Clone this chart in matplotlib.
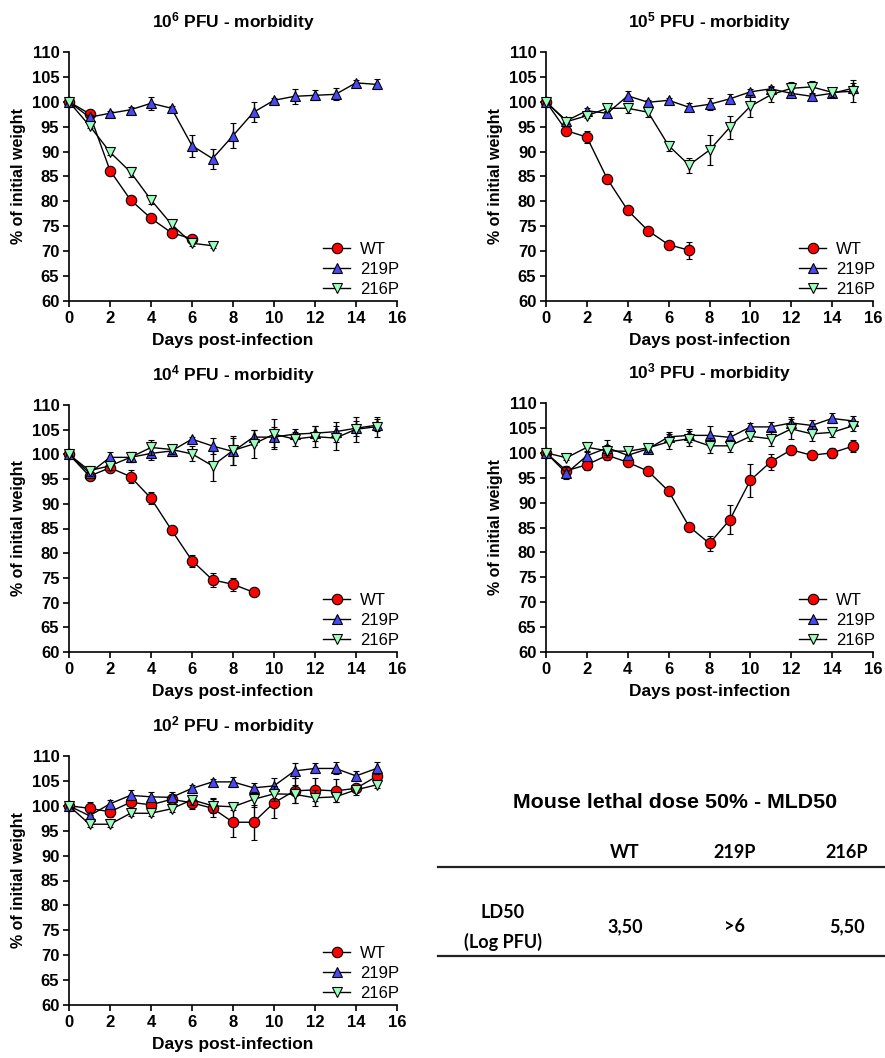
import numpy as np
import matplotlib
matplotlib.use("Agg")
import matplotlib.pyplot as plt
from matplotlib.lines import Line2D

plt.rcParams['font.family'] = ['Liberation Sans', 'DejaVu Sans']
plt.rcParams['mathtext.fontset'] = 'custom'
plt.rcParams['mathtext.bf'] = 'Liberation Sans:bold'
plt.rcParams['mathtext.rm'] = 'Liberation Sans:bold'

# ---- data ----
doses = ["6", "5", "4", "3", "2"]

wt_1e6 = [100, 97.6, 86.2, 80.3, 76.6, 73.7, 72.5]
wt_1e6_err = [0, 0.4, 0.8, 0.8, 0.8, 0.9, 0.5]
p219_1e6 = [100, 96.9, 97.7, 98.4, 99.7, 98.7, 91.2, 88.6, 93.2, 97.9, 100.3, 101.1, 101.3, 101.5, 103.8, 103.5]
p219_1e6_err = [0, 0.5, 0.5, 0.5, 1.3, 0.5, 2.2, 2.0, 2.5, 2.0, 0.5, 1.5, 1.0, 1.2, 0.5, 1.0]
p216_1e6 = [100, 95.2, 89.9, 85.9, 80.3, 75.4, 71.6, 71.1]
p216_1e6_err = [0, 0.5, 0.5, 1.0, 0.8, 0.8, 0.5, 0.4]

wt_1e5 = [100, 94.2, 92.9, 84.5, 78.2, 74.1, 71.3, 70.2]
wt_1e5_err = [0, 0.6, 1.2, 0.5, 0.5, 0.5, 0.6, 1.7]
p219_1e5 = [100, 96.2, 98.2, 97.7, 101.2, 99.9, 100.3, 98.9, 99.5, 100.6, 102.0, 102.6, 101.7, 101.1, 101.7, 102.7]
p219_1e5_err = [0, 0.6, 0.5, 0.5, 1.0, 0.5, 0.5, 0.8, 1.2, 1.0, 0.5, 0.5, 0.8, 0.5, 0.8, 1.0]
p216_1e5 = [100, 96.0, 97.2, 98.7, 98.7, 97.9, 91.2, 87.3, 90.3, 94.9, 99.1, 101.4, 102.7, 103.0, 101.9, 102.1]
p216_1e5_err = [0, 0.5, 0.5, 0.5, 1.0, 1.0, 1.0, 1.5, 3.0, 2.3, 2.2, 1.5, 1.3, 1.2, 0.9, 2.2]

wt_1e4 = [100, 95.6, 97.3, 95.5, 91.1, 84.7, 78.5, 74.6, 73.7, 72.1]
wt_1e4_err = [0, 0.6, 0.8, 1.3, 1.2, 0.8, 1.2, 1.4, 1.3, 0.6]
p219_1e4 = [100, 96.2, 99.4, 99.4, 100.2, 100.7, 103.1, 101.7, 100.6, 103.5, 103.5, 104.1, 104.3, 104.6, 105.3, 105.9]
p219_1e4_err = [0, 0.6, 1.0, 1.0, 1.3, 1.0, 0.5, 1.6, 2.7, 1.5, 2.0, 1.0, 1.5, 2.0, 1.5, 1.2]
p216_1e4 = [100, 96.7, 97.7, 99.4, 101.4, 101.0, 100.1, 97.7, 100.8, 102.1, 104.1, 103.1, 103.6, 103.3, 105.1, 105.6]
p216_1e4_err = [0, 1.0, 0.8, 1.0, 1.5, 1.0, 1.5, 3.0, 3.0, 2.8, 3.0, 1.5, 2.2, 2.5, 2.5, 2.0]

wt_1e3 = [100, 96.4, 97.6, 99.5, 98.1, 96.3, 92.3, 85.2, 81.8, 86.6, 94.5, 98.2, 100.6, 99.5, 100.0, 101.3]
wt_1e3_err = [0, 1.0, 1.0, 1.0, 0.8, 0.6, 0.6, 0.6, 1.5, 3.0, 3.3, 1.6, 0.8, 0.8, 1.0, 1.2]
p219_1e3 = [100, 95.9, 99.4, 101.0, 99.5, 100.8, 103.2, 103.5, 103.5, 103.1, 105.2, 105.2, 106.0, 105.5, 106.9, 106.4]
p219_1e3_err = [0, 1.2, 1.0, 1.5, 0.8, 0.8, 1.0, 1.3, 1.8, 1.2, 0.8, 1.0, 1.2, 1.0, 1.0, 1.0]
p216_1e3 = [100, 99.0, 101.1, 100.4, 100.3, 101.0, 102.2, 102.8, 101.4, 101.4, 103.3, 102.8, 104.8, 103.8, 104.1, 105.4]
p216_1e3_err = [0, 0.5, 1.0, 1.2, 0.8, 0.8, 1.5, 1.5, 1.5, 1.2, 1.0, 1.5, 2.0, 1.5, 1.0, 1.0]

wt_1e2 = [100, 99.5, 98.8, 100.7, 100.2, 101.3, 100.6, 99.5, 96.7, 96.7, 100.6, 103.0, 103.2, 103.0, 103.5, 105.9]
wt_1e2_err = [0, 1.3, 1.0, 1.5, 1.0, 1.0, 1.2, 1.8, 3.0, 3.5, 3.0, 2.5, 2.3, 2.3, 0.8, 1.0]
p219_1e2 = [100, 98.0, 100.4, 102.1, 101.8, 101.7, 103.5, 104.8, 104.8, 103.6, 104.0, 107.0, 107.5, 107.5, 106.0, 107.5]
p219_1e2_err = [0, 0.6, 0.8, 1.0, 1.0, 1.0, 0.6, 0.6, 1.0, 1.0, 1.5, 1.5, 1.0, 1.2, 0.9, 1.2]
p216_1e2 = [100, 96.3, 96.3, 98.5, 98.5, 99.4, 101.2, 100.0, 99.8, 101.3, 102.4, 102.3, 101.6, 101.8, 103.2, 104.2]
p216_1e2_err = [0, 0.6, 0.6, 0.6, 0.6, 0.6, 1.0, 1.5, 0.6, 1.5, 1.5, 1.8, 1.6, 1.0, 1.0, 0.6]

panels = [
    (wt_1e6, wt_1e6_err, p219_1e6, p219_1e6_err, p216_1e6, p216_1e6_err),
    (wt_1e5, wt_1e5_err, p219_1e5, p219_1e5_err, p216_1e5, p216_1e5_err),
    (wt_1e4, wt_1e4_err, p219_1e4, p219_1e4_err, p216_1e4, p216_1e4_err),
    (wt_1e3, wt_1e3_err, p219_1e3, p219_1e3_err, p216_1e3, p216_1e3_err),
    (wt_1e2, wt_1e2_err, p219_1e2, p219_1e2_err, p216_1e2, p216_1e2_err),
]

strains = ["WT", "219P", "216P"]
markers = ["o", "^", "v"]
colors = ["#ff0000", "#4848f4", "#9cffbe"]

table_cols = ["WT", "219P", "216P"]
table_vals = ["3,50", ">6", "5,50"]

# axes boxes in pixels: left, top, right, bottom
W, H = 885, 1058
boxes = [(69, 52, 397, 301), (546, 52, 873, 301),
         (69, 405, 397, 652), (546, 403, 873, 652),
         (69, 756, 397, 1005)]

fig = plt.figure(figsize=(W / 100, H / 100), dpi=100)

for dose, data, (l, t, r, b) in zip(doses, panels, boxes):
    ax = fig.add_axes([l / W, 1 - b / H, (r - l) / W, (b - t) / H])
    for i in range(3):
        y = data[2 * i]
        e = data[2 * i + 1]
        x = np.arange(len(y))
        ax.errorbar(x, y, yerr=e, fmt='-', color='black', lw=1, ecolor='black',
                    elinewidth=1, capsize=2.5, capthick=1, marker=markers[i],
                    markersize=7.5, markerfacecolor=colors[i], markeredgecolor='black',
                    markeredgewidth=0.8, clip_on=False, zorder=3 + i)
    ax.set_xlim(0, 16)
    ax.set_ylim(60, 110)
    ax.set_xticks(range(0, 17, 2))
    ax.set_yticks(range(60, 111, 5))
    ax.spines['top'].set_visible(False)
    ax.spines['right'].set_visible(False)
    ax.spines['left'].set_linewidth(1.2)
    ax.spines['bottom'].set_linewidth(1.2)
    ax.tick_params(width=1.2, length=4, labelsize=12, pad=3)
    for lab in ax.get_xticklabels() + ax.get_yticklabels():
        lab.set_fontweight('bold')
    ax.set_xlabel('Days post-infection', fontsize=12.5, fontweight='bold', labelpad=5)
    ax.set_ylabel('% of initial weight', fontsize=11.5, fontweight='bold', labelpad=4)
    ax.set_title(r'$\mathbf{10^{%s}}$ PFU - morbidity' % dose, fontsize=12.5,
                 fontweight='bold', pad=18)
    handles = [Line2D([], [], color='black', lw=1, marker=markers[i], markersize=7.5,
                      markerfacecolor=colors[i], markeredgecolor='black',
                      markeredgewidth=0.8) for i in range(3)]
    ax.legend(handles, strains, loc='lower left', bbox_to_anchor=(0.775, 0.015),
              frameon=False, fontsize=12, handlelength=1.6, labelspacing=0.3,
              handletextpad=0.6, borderpad=0, borderaxespad=0)

# LD50 table
fig.text(675 / W, 1 - 803 / H, 'Mouse lethal dose 50% - MLD50', ha='center', va='center',
         fontsize=15.4, fontweight='bold')
col_x = [625, 735, 847]
for cx, name, val in zip(col_x, table_cols, table_vals):
    fig.text(cx / W, 1 - 853 / H, name, ha='center', va='center', fontsize=13,
             fontweight='bold', family='Lato')
    fig.text(cx / W, 1 - 927 / H, val, ha='center', va='center', fontsize=13,
             fontweight='bold', family='Lato')
fig.text(503 / W, 1 - 912 / H, 'LD50', ha='center', va='center', fontsize=13,
         fontweight='bold', family='Lato')
fig.text(503 / W, 1 - 942 / H, '(Log PFU)', ha='center', va='center', fontsize=13,
         fontweight='bold', family='Lato')
for yy in (867, 956):
    fig.add_artist(Line2D([438 / W, 1.0], [1 - yy / H, 1 - yy / H], color='#222222', lw=1.6))

fig.savefig('out.png', dpi=100)
